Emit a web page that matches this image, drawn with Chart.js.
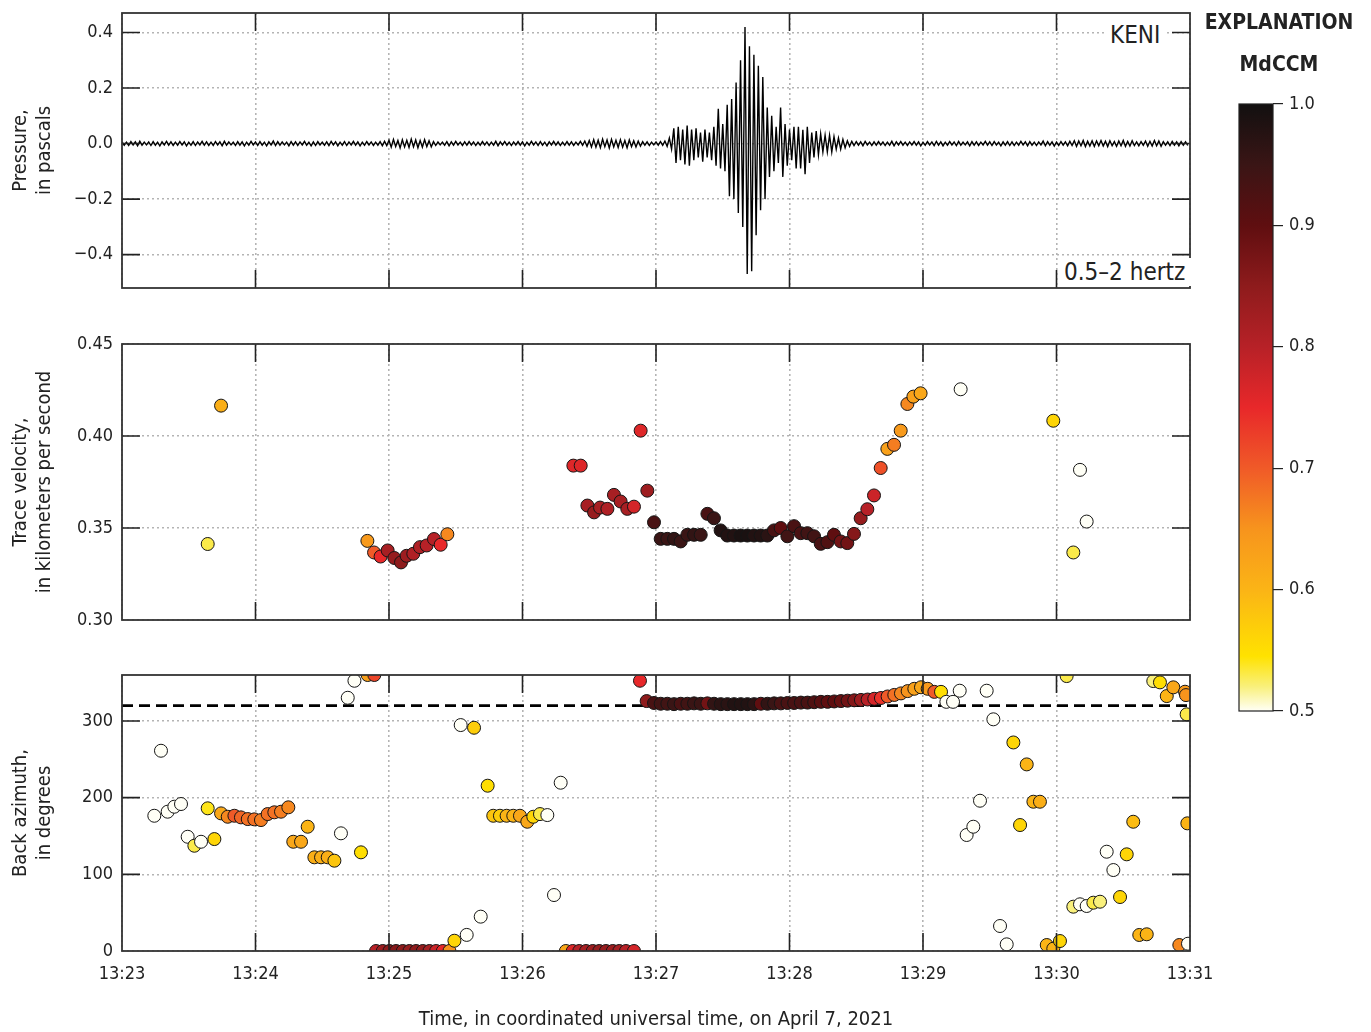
<!DOCTYPE html>
<html>
<head>
<meta charset="utf-8">
<title>KENI infrasound array processing</title>
<script src="https://cdn.jsdelivr.net/npm/chart.js@4.4.1/dist/chart.umd.min.js"></script>
<style>
  body { margin: 0; background: #fff; }
  #page {
    position: relative; width: 1371px; height: 1032px; overflow: hidden; background: #fff;
    font-family: 'Liberation Sans Narrow', 'DejaVu Sans Condensed', 'Arial Narrow', sans-serif;
    color: #222;
  }
  #page canvas { position: absolute; }
  .tag { position: absolute; background: #fff; font-size: 24px; line-height: 28px; padding: 0 4px; }
  .head { position: absolute; left: 1195px; width: 168px; text-align: center; font-weight: bold; font-size: 21px; }
</style>
</head>
<body>
<div id="page">
  <canvas id="pressure" width="1200" height="300" style="left:0;top:0"></canvas>
  <canvas id="velocity" width="1200" height="300" style="left:0;top:330px"></canvas>
  <canvas id="azimuth" width="1230" height="372" style="left:0;top:660px"></canvas>
  <canvas id="colorbar" width="176" height="760" style="left:1195px;top:0"></canvas>
  <div class="tag" style="left:1106px;top:21px">KENI</div>
  <div class="tag" style="left:1060px;top:258px;padding-right:10px">0.5–2 hertz</div>
  <div class="head" style="top:10px">EXPLANATION</div>
  <div class="head" style="top:52px">MdCCM</div>
</div>

<script>
// ---- Filtered pressure trace, 2-second bins from 13:23:00 (peak high / peak low, Pa) ----
const pressureHi = [
  .006,.005,.007,.006,.008,.005,.006,.007,.005,.006,.008,.006,.005,.007,.006,.005,.007,.006,.008,.006,
  .005,.007,.006,.008,.006,.005,.007,.006,.005,.008,.006,.007,.005,.006,.009,.007,.006,.005,.007,.006,
  .006,.008,.005,.006,.007,.005,.006,.008,.006,.005,.007,.006,.008,.006,.005,.007,.006,.005,.007,.008,
  .012,.015,.011,.014,.012,.016,.013,.011,.014,.010,.007,.006,.005,.007,.006,.008,.005,.006,.007,.006,
  .005,.007,.006,.005,.008,.006,.007,.005,.006,.007,.006,.005,.008,.006,.007,.005,.006,.008,.006,.005,
  .007,.006,.005,.008,.009,.011,.014,.012,.016,.013,.015,.012,.014,.011,.013,.010,.009,.007,.006,.005,
  .006,.007,.009,.020,.055,.060,.050,.065,.050,.055,.040,.050,.040,.060,.125,.070,.140,.160,.220,.300,
  .420,.350,.320,.280,.240,.130,.100,.060,.130,.070,.050,.060,.060,.050,.060,.040,.045,.035,.030,.030,
  .025,.020,.015,.010,.008,.007,.006,.008,.005,.006,.007,.006,.005,.008,.006,.007,.005,.006,.007,.006,
  .005,.007,.006,.008,.006,.005,.007,.006,.008,.005,.006,.007,.006,.005,.008,.006,.007,.005,.006,.007,
  .006,.005,.008,.006,.007,.005,.006,.009,.007,.006,.005,.007,.006,.008,.010,.009,.011,.008,.010,.009,
  .011,.008,.010,.007,.009,.011,.008,.010,.006,.007,.009,.008,.011,.009,.007,.006,.008,.006,.007,.006
];
const pressureLo = [
  -.006,-.007,-.005,-.008,-.006,-.005,-.007,-.006,-.008,-.005,-.006,-.007,-.006,-.005,-.008,-.006,-.007,-.005,-.006,-.007,
  -.007,-.005,-.008,-.006,-.005,-.007,-.006,-.008,-.006,-.005,-.007,-.006,-.008,-.005,-.007,-.006,-.005,-.008,-.006,-.007,
  -.005,-.006,-.008,-.007,-.005,-.006,-.007,-.005,-.008,-.006,-.007,-.005,-.006,-.008,-.006,-.005,-.007,-.006,-.008,-.007,
  -.013,-.011,-.016,-.012,-.014,-.012,-.015,-.013,-.011,-.012,-.007,-.005,-.006,-.008,-.006,-.005,-.007,-.006,-.005,-.007,
  -.006,-.005,-.007,-.006,-.008,-.005,-.006,-.007,-.005,-.006,-.008,-.006,-.005,-.007,-.006,-.008,-.005,-.006,-.007,-.006,
  -.006,-.007,-.005,-.006,-.010,-.012,-.013,-.015,-.011,-.016,-.012,-.014,-.013,-.015,-.011,-.012,-.009,-.006,-.007,-.005,
  -.006,-.006,-.010,-.020,-.070,-.060,-.075,-.080,-.060,-.050,-.065,-.050,-.060,-.080,-.090,-.100,-.190,-.200,-.250,-.300,
  -.470,-.460,-.330,-.240,-.200,-.120,-.100,-.070,-.120,-.080,-.060,-.090,-.090,-.110,-.070,-.050,-.040,-.030,-.030,-.030,
  -.020,-.020,-.015,-.010,-.007,-.006,-.008,-.005,-.007,-.006,-.005,-.007,-.006,-.008,-.005,-.006,-.007,-.005,-.006,-.008,
  -.006,-.005,-.007,-.006,-.008,-.006,-.005,-.007,-.006,-.005,-.008,-.006,-.007,-.005,-.006,-.007,-.005,-.008,-.006,-.007,
  -.007,-.006,-.005,-.008,-.006,-.007,-.005,-.008,-.006,-.009,-.007,-.006,-.008,-.007,-.010,-.008,-.011,-.009,-.010,-.008,
  -.009,-.011,-.008,-.010,-.008,-.010,-.009,-.007,-.008,-.006,-.010,-.009,-.008,-.010,-.006,-.007,-.006,-.008,-.006,-.007
];
const binSeconds = 2;

// ---- Trace velocity (time in minutes past 13:00, km/s, MdCCM) ----
const velTime = [
  23.642, 23.742,
  24.838, 24.888, 24.937, 24.990, 25.040, 25.090, 25.132, 25.182, 25.232, 25.282, 25.337, 25.387, 25.437,
  26.381, 26.436, 26.486, 26.536, 26.581, 26.636, 26.685, 26.735, 26.785, 26.835, 26.885, 26.935,
  26.985, 27.035, 27.085, 27.135, 27.185, 27.235, 27.285, 27.335, 27.385, 27.434, 27.484,
  27.534, 27.584, 27.634, 27.684, 27.734, 27.784, 27.834, 27.884, 27.934, 27.984, 28.034, 28.084,
  28.134, 28.184, 28.234, 28.284, 28.333, 28.384, 28.433, 28.483, 28.533, 28.583, 28.633, 28.683,
  28.733, 28.783, 28.833, 28.883, 28.928, 28.982,
  29.282, 29.976, 30.126, 30.176, 30.226
];
const velValue = [
  0.3413, 0.4165,
  0.3430, 0.3367, 0.3345, 0.3378, 0.3337, 0.3313, 0.3349, 0.3360, 0.3396, 0.3405, 0.3440, 0.3409, 0.3466,
  0.3839, 0.3839, 0.3622, 0.3585, 0.3611, 0.3604, 0.3680, 0.3644, 0.3604, 0.3616, 0.4029, 0.3703,
  0.3531, 0.3441, 0.3441, 0.3441, 0.3427, 0.3463, 0.3463, 0.3463, 0.3577, 0.3553, 0.3487,
  0.3459, 0.3459, 0.3459, 0.3459, 0.3459, 0.3459, 0.3459, 0.3487, 0.3500, 0.3455, 0.3510, 0.3472,
  0.3472, 0.3455, 0.3414, 0.3423, 0.3463, 0.3427, 0.3418, 0.3468, 0.3553, 0.3602, 0.3677, 0.3826,
  0.3930, 0.3952, 0.4029, 0.4174, 0.4214, 0.4232,
  0.4254, 0.4083, 0.3367, 0.3816, 0.3535
];
const velMdccm = [
  0.53, 0.61,
  0.64, 0.70, 0.75, 0.82, 0.84, 0.85, 0.83, 0.81, 0.81, 0.80, 0.80, 0.75, 0.66,
  0.76, 0.76, 0.82, 0.84, 0.82, 0.81, 0.82, 0.82, 0.82, 0.77, 0.76, 0.83,
  0.93, 0.95, 0.95, 0.96, 0.95, 0.95, 0.96, 0.95, 0.93, 0.95, 0.98,
  0.98, 0.98, 0.99, 0.99, 0.98, 0.98, 0.97, 0.93, 0.90, 0.94, 0.93, 0.93,
  0.94, 0.94, 0.93, 0.92, 0.90, 0.88, 0.88, 0.86, 0.84, 0.80, 0.78, 0.71,
  0.63, 0.67, 0.64, 0.66, 0.63, 0.62,
  0.50, 0.56, 0.53, 0.50, 0.50
];

// ---- Back azimuth (time in minutes past 13:00, degrees, MdCCM) ----
const bazTime = [
  23.242, 23.292, 23.342, 23.392, 23.442, 23.492, 23.542, 23.592, 23.642, 23.692,
  23.742, 23.792, 23.842, 23.891, 23.942, 23.991, 24.041, 24.091, 24.141, 24.191, 24.246,
  24.283, 24.341, 24.391, 24.441, 24.491, 24.541, 24.591, 24.640, 24.691, 24.741, 24.790, 24.840, 24.890,
  24.903, 24.953, 25.003, 25.053, 25.103, 25.153, 25.203, 25.253, 25.303, 25.353, 25.403, 25.453,
  25.490, 25.537, 25.582, 25.637, 25.687, 25.739, 25.781, 25.831, 25.881, 25.931, 25.981,
  26.036, 26.081, 26.131, 26.186, 26.236, 26.286,
  26.325, 26.376, 26.425, 26.476, 26.526, 26.575, 26.625, 26.676, 26.725, 26.775, 26.835,
  26.880, 26.930,
  26.985, 27.035, 27.085, 27.135, 27.185, 27.235, 27.285, 27.335, 27.385, 27.435, 27.485,
  27.535, 27.585, 27.635, 27.685, 27.735, 27.785, 27.835, 27.885, 27.935, 27.985, 28.035,
  28.085, 28.135, 28.185, 28.235, 28.285, 28.335, 28.385, 28.435, 28.485, 28.535, 28.585,
  28.635, 28.685, 28.735, 28.785, 28.835, 28.885, 28.935, 28.985, 29.035, 29.085, 29.135,
  29.175, 29.225, 29.275, 29.327, 29.377, 29.427, 29.477, 29.527, 29.577, 29.627,
  29.677, 29.727, 29.777, 29.827, 29.876, 29.927, 29.976, 30.026, 30.076, 30.126,
  30.176, 30.226, 30.276, 30.326, 30.376, 30.426, 30.476, 30.526, 30.575, 30.620,
  30.676, 30.725, 30.775, 30.826, 30.875, 30.920, 30.963, 30.970, 30.975, 30.980, 30.985
];
const bazValue = [
  176.4, 261.2, 181.7, 188.2, 191.7, 149.0, 137.3, 142.5, 186.1, 146.0,
  179.5, 175.1, 176.4, 174.3, 172.1, 171.7, 170.8, 178.6, 180.9, 181.7, 187.4,
  142.5, 142.5, 162.1, 122.2, 122.2, 122.2, 117.8, 153.5, 330.3, 352.5, 128.7, 360, 360,
  0, 0, 0, 0, 0, 0, 0, 0, 0, 0, 0, 0,
  13.4, 294.7, 21.0, 291.2, 44.8, 215.6, 176.4, 176.4, 176.4, 176.4, 176.4,
  168.6, 175.1, 178.6, 177.3, 73.0, 219.5,
  0, 0, 0, 0, 0, 0, 0, 0, 0, 0, 0,
  352.5, 326.0,
  323.5, 322.5, 322.5, 322.0, 322.5, 322.5, 323.0, 322.5, 323.0, 322.5, 322.0,
  322.0, 322.0, 322.0, 322.0, 322.0, 322.5, 322.5, 323.0, 323.0, 323.5, 323.5,
  324.0, 324.0, 324.5, 325.0, 325.0, 325.5, 326.0, 326.5, 327.0, 327.5, 328.0,
  329.0, 330.0, 332.0, 334.0, 336.0, 339.0, 342.0, 344.0, 342.0, 338.0, 338.0,
  325.0, 325.0, 339.5, 151.3, 162.1, 196.0, 339.5, 302.2, 32.6, 8.7,
  272.0, 164.3, 243.4, 194.7, 194.7, 7.8, 3.0, 13.0, 358.6, 57.8,
  60.9, 58.7, 63.0, 64.3, 129.5, 105.6, 70.4, 126.1, 168.6, 20.9,
  21.8, 352.1, 350.4, 332.5, 343.9, 7.8, 338.2, 333.8, 308.7, 166.5, 9.5
];
const bazMdccm = [
  0.50, 0.50, 0.50, 0.50, 0.50, 0.50, 0.53, 0.50, 0.54, 0.56,
  0.62, 0.66, 0.70, 0.69, 0.68, 0.68, 0.67, 0.68, 0.68, 0.67, 0.66,
  0.62, 0.62, 0.60, 0.61, 0.61, 0.61, 0.58, 0.50, 0.50, 0.50, 0.55, 0.63, 0.72,
  0.80, 0.83, 0.85, 0.86, 0.85, 0.84, 0.85, 0.84, 0.82, 0.78, 0.75, 0.65,
  0.56, 0.50, 0.50, 0.57, 0.50, 0.55, 0.58, 0.57, 0.60, 0.60, 0.62,
  0.62, 0.56, 0.53, 0.50, 0.50, 0.50,
  0.62, 0.76, 0.80, 0.82, 0.83, 0.84, 0.84, 0.83, 0.82, 0.80, 0.77,
  0.75, 0.85,
  0.93, 0.94, 0.94, 0.95, 0.93, 0.94, 0.95, 0.95, 0.88, 0.96, 0.97,
  0.97, 0.98, 0.98, 0.98, 0.97, 0.90, 0.96, 0.95, 0.93, 0.93, 0.93,
  0.93, 0.93, 0.92, 0.91, 0.90, 0.90, 0.89, 0.88, 0.86, 0.83, 0.80,
  0.77, 0.74, 0.70, 0.68, 0.66, 0.65, 0.63, 0.62, 0.64, 0.70, 0.55,
  0.50, 0.50, 0.50, 0.50, 0.50, 0.50, 0.50, 0.50, 0.50, 0.50,
  0.56, 0.56, 0.60, 0.60, 0.61, 0.60, 0.60, 0.56, 0.53, 0.52,
  0.50, 0.50, 0.53, 0.52, 0.50, 0.50, 0.56, 0.56, 0.59, 0.60,
  0.60, 0.52, 0.55, 0.60, 0.62, 0.66, 0.64, 0.65, 0.53, 0.60, 0.50
];
const expectedBaz = 320;

// ---- Axis ticks ----
const timeTicks = [23, 24, 25, 26, 27, 28, 29, 30, 31];
const pressureTicks = [-0.4, -0.2, 0.0, 0.2, 0.4];
const velocityTicks = [0.30, 0.35, 0.40, 0.45];
const azimuthTicks = [0, 100, 200, 300];
const colorbarTicks = [0.5, 0.6, 0.7, 0.8, 0.9, 1.0];

// ---- MdCCM colour scale ----
const cmapStops = [0.50, 0.52, 0.545, 0.60, 0.65, 0.70, 0.75, 0.80, 0.85, 0.90, 0.95, 1.00];
const cmapColors = ['#fffff6', '#f9f07c', '#ffe200', '#fbb416', '#f7941d', '#f05a28',
                    '#e8282a', '#b72127', '#8e1b1c', '#5f0e10', '#3a1515', '#121010'];

function hexToRgb(h) {
  return [parseInt(h.substr(1, 2), 16), parseInt(h.substr(3, 2), 16), parseInt(h.substr(5, 2), 16)];
}
function mdccmColor(v) {
  if (v <= cmapStops[0]) return cmapColors[0];
  for (let i = 1; i < cmapStops.length; i++) {
    if (v <= cmapStops[i]) {
      const f = (v - cmapStops[i - 1]) / (cmapStops[i] - cmapStops[i - 1]);
      const a = hexToRgb(cmapColors[i - 1]), b = hexToRgb(cmapColors[i]);
      const c = a.map((x, k) => Math.round(x + (b[k] - x) * f));
      return `rgb(${c[0]},${c[1]},${c[2]})`;
    }
  }
  return cmapColors[cmapColors.length - 1];
}

// ---- Shared styling ----
const FONT = "'Liberation Sans Narrow', 'DejaVu Sans Condensed', 'Arial Narrow', sans-serif";
const INK = '#222';
const tickFont = { family: FONT, size: 18 };
const titleFont = { family: FONT, size: 20 };

// keep the plot box exactly where the layout puts it (no label overhang padding)
function noOverhang(s) {
  s.paddingTop = 0; s.paddingBottom = 0; s.paddingLeft = 0; s.paddingRight = 0;
}

// inward tick marks on all four sides plus the panel frame
const framePlugin = {
  id: 'frame',
  afterDraw(chart) {
    const { ctx, chartArea: a, scales } = chart;
    const len = 18;
    ctx.save();
    ctx.strokeStyle = INK;
    ctx.lineWidth = 1.6;
    ctx.beginPath();
    scales.x.ticks.forEach((t) => {
      const px = scales.x.getPixelForValue(t.value);
      if (px <= a.left + 1 || px >= a.right - 1) return;
      ctx.moveTo(px, a.top); ctx.lineTo(px, a.top + len);
      ctx.moveTo(px, a.bottom); ctx.lineTo(px, a.bottom - len);
    });
    scales.y.ticks.forEach((t) => {
      const py = scales.y.getPixelForValue(t.value);
      if (py <= a.top + 1 || py >= a.bottom - 1) return;
      ctx.moveTo(a.left, py); ctx.lineTo(a.left + len, py);
      ctx.moveTo(a.right, py); ctx.lineTo(a.right - len, py);
    });
    ctx.stroke();
    ctx.strokeStyle = '#333';
    ctx.lineWidth = 1.8;
    ctx.strokeRect(a.left, a.top, a.right - a.left, a.bottom - a.top);
    ctx.restore();
  }
};

function timeAxis(showLabels, height) {
  return {
    type: 'linear', min: 23, max: 31,
    afterBuildTicks: (s) => { s.ticks = timeTicks.map((v) => ({ value: v })); },
    afterFit: (s) => { s.height = height; noOverhang(s); },
    grid: { color: '#b4b4b4', lineWidth: 1.6, drawTicks: false },
    border: { display: false, dash: [2, 3] },
    ticks: {
      display: showLabels, padding: 13, color: INK, font: tickFont, maxRotation: 0,
      callback: (v) => '13:' + String(v).padStart(2, '0')
    },
    title: showLabels ? {
      display: true, text: 'Time, in coordinated universal time, on April 7, 2021',
      color: INK, font: titleFont, padding: { top: 20, bottom: 0 }
    } : { display: false }
  };
}

function valueAxis(min, max, ticks, fmt, title) {
  return {
    type: 'linear', min: min, max: max,
    afterBuildTicks: (s) => { s.ticks = ticks.map((v) => ({ value: v })); },
    afterFit: (s) => { s.width = 122; noOverhang(s); },
    grid: { color: '#b4b4b4', lineWidth: 1.6, drawTicks: false },
    border: { display: false, dash: [2, 3] },
    ticks: { padding: 9, color: INK, font: tickFont, callback: fmt },
    title: { display: true, text: title, color: INK, font: titleFont, padding: { top: 9, bottom: 4 } }
  };
}

function baseOptions(padTop, padRight) {
  return {
    responsive: false, animation: false, events: [],
    layout: { autoPadding: false, padding: { top: padTop, right: padRight, left: 0, bottom: 0 } },
    plugins: { legend: { display: false }, tooltip: { enabled: false } }
  };
}

function pointsFrom(times, values) {
  return times.map((t, i) => ({ x: t, y: values[i] }));
}

// ---- Pressure panel ----
const tracePoints = [];
pressureHi.forEach((hi, i) => {
  tracePoints.push({ x: 23 + (i * binSeconds) / 60, y: hi });
  tracePoints.push({ x: 23 + (i * binSeconds + binSeconds / 2) / 60, y: pressureLo[i] });
});

new Chart(document.getElementById('pressure'), {
  type: 'scatter',
  data: {
    datasets: [{
      data: tracePoints, showLine: true, pointRadius: 0,
      borderColor: '#000', borderWidth: 1.4, tension: 0
    }]
  },
  options: Object.assign(baseOptions(13, 10), {
    scales: {
      x: timeAxis(false, 12),
      y: valueAxis(-0.52, 0.47, pressureTicks,
        (v) => (v < 0 ? '\u2212' : '') + Math.abs(v).toFixed(1), ['Pressure,', 'in pascals'])
    }
  }),
  plugins: [framePlugin]
});

// ---- Trace velocity panel ----
new Chart(document.getElementById('velocity'), {
  type: 'scatter',
  data: {
    datasets: [{
      data: pointsFrom(velTime, velValue),
      backgroundColor: velMdccm.map(mdccmColor),
      borderColor: '#151515', borderWidth: 1, pointRadius: 6.5
    }]
  },
  options: Object.assign(baseOptions(14, 10), {
    scales: {
      x: timeAxis(false, 10),
      y: valueAxis(0.30, 0.45, velocityTicks, (v) => v.toFixed(2),
        ['Trace velocity,', 'in kilometers per second'])
    }
  }),
  plugins: [framePlugin]
});

// ---- Back azimuth panel ----
new Chart(document.getElementById('azimuth'), {
  type: 'scatter',
  data: {
    datasets: [{
      data: pointsFrom(bazTime, bazValue),
      backgroundColor: bazMdccm.map(mdccmColor),
      borderColor: '#151515', borderWidth: 1, pointRadius: 6.5, order: 0
    }, {
      data: [{ x: 23, y: expectedBaz }, { x: 31, y: expectedBaz }],
      showLine: true, pointRadius: 0, borderColor: '#000', borderWidth: 2.6,
      borderDash: [11, 6], order: 1
    }]
  },
  options: Object.assign(baseOptions(15, 40), {
    scales: {
      x: timeAxis(true, 81),
      y: valueAxis(0, 360, azimuthTicks, (v) => String(v), ['Back azimuth,', 'in degrees'])
    }
  }),
  plugins: [framePlugin]
});

// ---- Colour bar ----
const colorbarPlugin = {
  id: 'colorbarFill',
  beforeDatasetsDraw(chart) {
    const { ctx, chartArea: a } = chart;
    const g = ctx.createLinearGradient(0, a.bottom, 0, a.top);
    cmapStops.forEach((s, i) => g.addColorStop((s - 0.5) / 0.5, cmapColors[i]));
    ctx.save();
    ctx.fillStyle = g;
    ctx.fillRect(a.left, a.top, a.right - a.left, a.bottom - a.top);
    ctx.strokeStyle = INK;
    ctx.lineWidth = 1.2;
    ctx.strokeRect(a.left, a.top, a.right - a.left, a.bottom - a.top);
    ctx.restore();
  }
};

new Chart(document.getElementById('colorbar'), {
  type: 'scatter',
  data: { datasets: [] },
  options: {
    responsive: false, animation: false, events: [],
    layout: { autoPadding: false, padding: { top: 104, bottom: 49, left: 44, right: 0 } },
    plugins: { legend: { display: false }, tooltip: { enabled: false } },
    scales: {
      x: { display: false, min: 0, max: 1 },
      y: {
        position: 'right', min: 0.5, max: 1.0,
        afterBuildTicks: (s) => { s.ticks = colorbarTicks.map((v) => ({ value: v })); },
        afterFit: (s) => { s.width = 98; noOverhang(s); },
        grid: { drawOnChartArea: false, tickLength: 10, color: INK, lineWidth: 1.2 },
        border: { display: false },
        ticks: { padding: 6, color: INK, font: tickFont, callback: (v) => v.toFixed(1) }
      }
    }
  },
  plugins: [colorbarPlugin]
});
</script>
</body>
</html>
